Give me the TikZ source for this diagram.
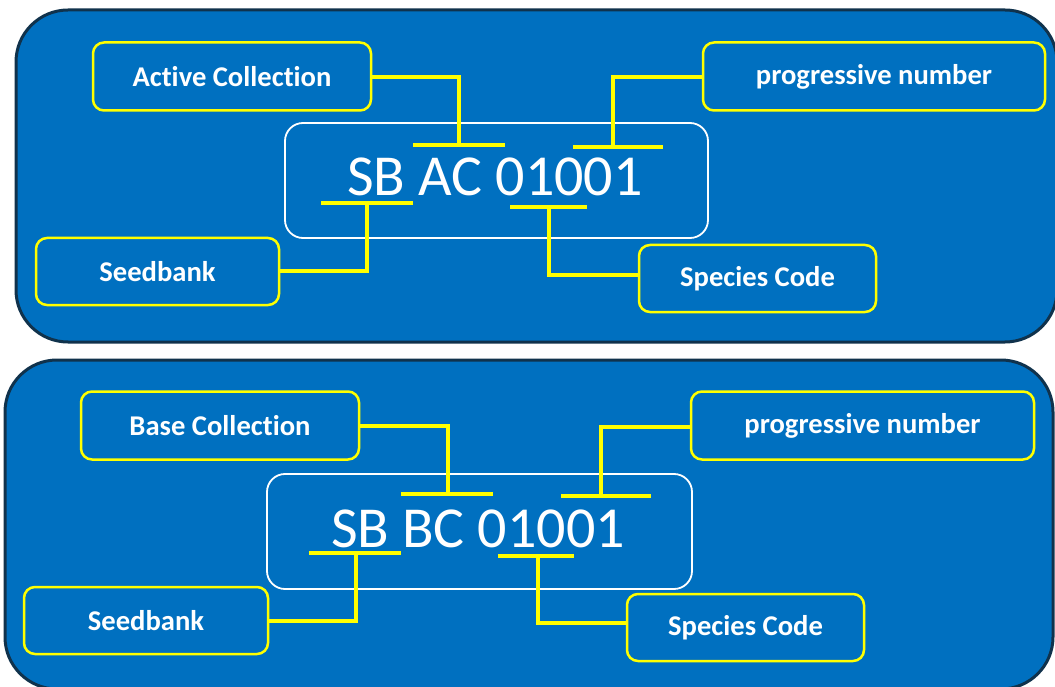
\documentclass[tikz,border=0pt]{standalone}
\usepackage{fontspec}
\setmainfont[Ligatures=NoCommon]{Carlito}
\definecolor{panelblue}{RGB}{0,112,192}
\definecolor{panelborder}{RGB}{16,50,76}
\definecolor{yel}{RGB}{255,255,0}
\begin{document}
\begin{tikzpicture}[x=1pt,y=-1pt,
  panel/.style={draw=panelborder, line width=3pt, fill=panelblue, rounded corners=52pt},
  lbl/.style={draw=yel, line width=2.5pt, rounded corners=11pt, fill=panelblue, text=white,
    font=\bfseries\fontsize{28.6}{31}\selectfont, inner sep=0pt},
  codebox/.style={draw=white, line width=1.8pt, rounded corners=18pt, inner sep=0pt},
  code/.style={text=white, font=\fontsize{58}{61}\selectfont, inner sep=0pt, anchor=base},
  conn/.style={draw=yel, line width=3.5pt},
  bar/.style={draw=yel, line width=4pt}]
\useasboundingbox (0,0) rectangle (1055,687);
\fill[white] (0,0) rectangle (1055,687);

% ---------- top panel ----------
\draw[panel] (16,10) rectangle (1057,342);
\node[codebox, minimum width=423pt, minimum height=115pt] (wb1) at (496.5,180.5) {};
\node[code] (c1) at (495,196) {SB AC 01001};
\node[lbl, minimum width=278pt, minimum height=68pt] (ac) at (232,76.5) {Active Collection};
\node[lbl, minimum width=342pt, minimum height=68pt] (pn1) at (874,76.5) {progressive number};
\node[lbl, minimum width=243pt, minimum height=67pt] (sb1) at (157.5,271.5) {Seedbank};
\node[lbl, minimum width=237pt, minimum height=67pt] (sc1) at (757.5,278.5) {Species Code};

\coordinate (acT) at (459,145);
\coordinate (acL) at (413,145);
\coordinate (acR) at (505,145);
\coordinate (pnT1) at (613,147);
\coordinate (pnL1) at (573,147);
\coordinate (pnR1) at (663,147);
\coordinate (sbT1) at (367,203);
\coordinate (sbL1) at (321,203);
\coordinate (sbR1) at (413,203);
\coordinate (scT1) at (549,207);
\coordinate (scL1) at (510,207);
\coordinate (scR1) at (587,207);

\draw[conn] (ac.east |- 0,77) -| (acT);
\draw[bar] (acL) -- (acR);
\draw[conn] (pn1.west |- 0,77) -| (pnT1);
\draw[bar] (pnL1) -- (pnR1);
\draw[conn] (sb1.east |- 0,271) -| (sbT1);
\draw[bar] (sbL1) -- (sbR1);
\draw[conn] (sc1.west |- 0,275) -| (scT1);
\draw[bar] (scL1) -- (scR1);

% ---------- bottom panel ----------
\draw[panel] (5,360) rectangle (1053,689);
\node[codebox, minimum width=425pt, minimum height=115pt] (wb2) at (479.5,531.5) {};
\node[code] (c2) at (478,547) {SB BC 01001};
\node[lbl, minimum width=278pt, minimum height=68pt] (bc) at (220,425.5) {Base Collection};
\node[lbl, minimum width=343pt, minimum height=68pt] (pn2) at (862.5,425.5) {progressive number};
\node[lbl, minimum width=244pt, minimum height=67pt] (sb2) at (146,620.5) {Seedbank};
\node[lbl, minimum width=237pt, minimum height=67pt] (sc2) at (745.5,627.5) {Species Code};

\coordinate (bcT) at (448,494);
\coordinate (bcL) at (401,494);
\coordinate (bcR) at (493,494);
\coordinate (pnT2) at (601,496);
\coordinate (pnL2) at (561,496);
\coordinate (pnR2) at (651,496);
\coordinate (sbT2) at (356,553);
\coordinate (sbL2) at (309,553);
\coordinate (sbR2) at (401,553);
\coordinate (scT2) at (538,556);
\coordinate (scL2) at (498,556);
\coordinate (scR2) at (574,556);

\draw[conn] (bc.east |- 0,426) -| (bcT);
\draw[bar] (bcL) -- (bcR);
\draw[conn] (pn2.west |- 0,427) -| (pnT2);
\draw[bar] (pnL2) -- (pnR2);
\draw[conn] (sb2.east |- 0,621) -| (sbT2);
\draw[bar] (sbL2) -- (sbR2);
\draw[conn] (sc2.west |- 0,623) -| (scT2);
\draw[bar] (scL2) -- (scR2);
\end{tikzpicture}
\end{document}
